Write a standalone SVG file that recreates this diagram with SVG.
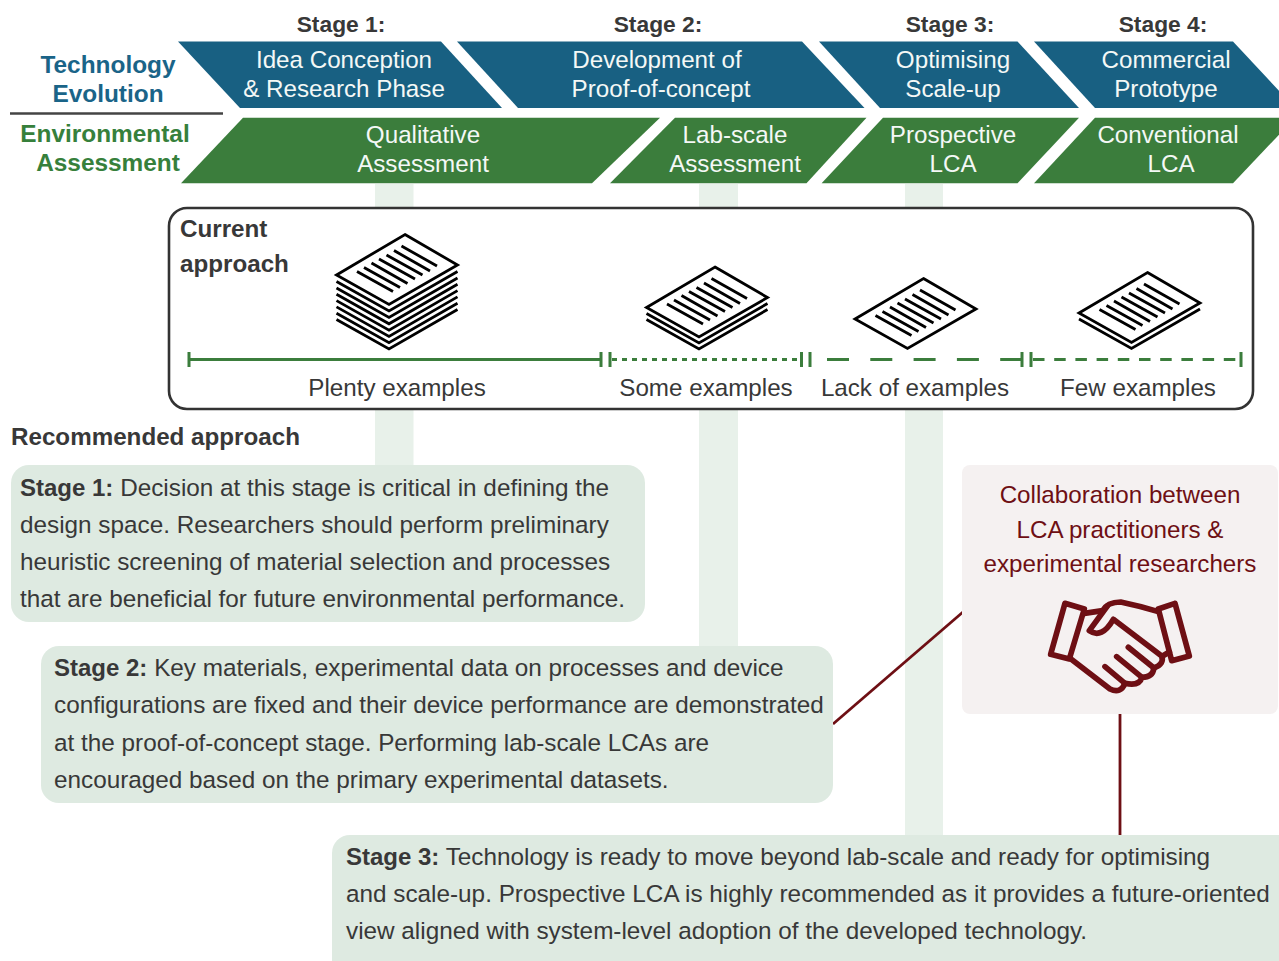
<svg xmlns="http://www.w3.org/2000/svg" width="1279" height="961" viewBox="0 0 1279 961">
<style>
text{font-family:"Liberation Sans",Arial,sans-serif;font-size:24.2px;fill:#383838}
.c{text-anchor:middle}.b{font-weight:700}
.body{font-size:24.3px}
.body .b{font-size:24px}
.w{fill:#f4f8f6;text-anchor:middle}
.st{font-weight:700;text-anchor:middle;font-size:22.8px}
.blue{fill:#186082}.green{fill:#3b7d3c}
.tb{fill:#1a6488;font-weight:700;text-anchor:middle;font-size:24.4px}
.tg{fill:#36803b;font-weight:700;text-anchor:middle;font-size:24.4px}
.band{fill:#e8f1ea}.rec{fill:#deeae1}
.sheet{fill:#fff;stroke:#000;stroke-width:2.800;stroke-linejoin:miter}
.under{fill:none;stroke:#000;stroke-width:2.800}
.tl{stroke:#3b7d3c;stroke-width:3;fill:none}
.red{stroke:#6e0f14;fill:none}
</style>
<defs>
<g id="sheet">
<path class="sheet" d="M0 0L52.500 30.500L-16 70L-68.500 40.500Z"/>
<path class="under" d="M-3.500 11.500L32 31.500M-11 16L25 36.500M-18.500 20.500L17.500 40.500M-26 24.500L10 44.500M-33.500 28.500L2.500 49M-41 33L-5 53M-48 37L-12 57"/>
</g>
<path id="under" class="under" d="M-68.500 40.500L-16 70L52.500 30.500"/>
</defs>
<rect width="1279" height="961" fill="#fff"/>
<g id="bands">
<rect class="band" x="375" y="184" width="38.500" height="285"/>
<rect class="band" x="699" y="184" width="39" height="465"/>
<rect class="band" x="905" y="184" width="38" height="655"/>
</g>
<g id="stage-labels">
<text class="st" x="341" y="31.500">Stage 1:</text>
<text class="st" x="658" y="31.500">Stage 2:</text>
<text class="st" x="950" y="31.500">Stage 3:</text>
<text class="st" x="1163" y="31.500">Stage 4:</text>
</g>
<g id="technology-label">
<text class="tb" x="108" y="73">Technology</text>
<text class="tb" x="108" y="102">Evolution</text>
</g>
<line x1="10" y1="113.500" x2="223" y2="113.500" stroke="#444" stroke-width="2.500"/>
<g id="environment-label">
<text class="tg" x="105" y="142">Environmental</text>
<text class="tg" x="108" y="171">Assessment</text>
</g>
<g id="tech-1"><path class="blue" d="M178 41.500H441L502 108H240Z"/><text class="w" x="344" y="67.500">Idea Conception</text><text class="w" x="344" y="96.500">&amp; Research Phase</text></g>
<g id="tech-2"><path class="blue" d="M457 41.500H802L864.500 108H518Z"/><text class="w" x="657" y="67.500">Development of</text><text class="w" x="661" y="96.500">Proof-of-concept</text></g>
<g id="tech-3"><path class="blue" d="M819 41.500H1017.500L1079 108H880Z"/><text class="w" x="953" y="67.500">Optimising</text><text class="w" x="953" y="96.500">Scale-up</text></g>
<g id="tech-4"><path class="blue" d="M1034 41.500H1233L1295 108H1095Z"/><text class="w" x="1166" y="67.500">Commercial</text><text class="w" x="1166" y="96.500">Prototype</text></g>
<g id="env-1"><path class="green" d="M243 117.700H660L592 183.300H181Z"/><text class="w" x="423" y="142.500">Qualitative</text><text class="w" x="423" y="171.500">Assessment</text></g>
<g id="env-2"><path class="green" d="M675 117.700H866.500L806.500 183.300H610Z"/><text class="w" x="735" y="142.500">Lab-scale</text><text class="w" x="735" y="171.500">Assessment</text></g>
<g id="env-3"><path class="green" d="M883 117.700H1079L1017.500 183.300H821.600Z"/><text class="w" x="953" y="142.500">Prospective</text><text class="w" x="953" y="171.500">LCA</text></g>
<g id="env-4"><path class="green" d="M1095 117.700H1295L1233 183.300H1034Z"/><text class="w" x="1168" y="142.500">Conventional</text><text class="w" x="1171" y="171.500">LCA</text></g>
<g id="current-approach">
<rect x="169" y="208" width="1084" height="201" rx="18" fill="#fff" stroke="#333" stroke-width="2.600"/>
<text class="b" x="180" y="236.500">Current</text>
<text class="b" x="180" y="271.500">approach</text>
<g id="stack-1">
<use href="#under" x="405" y="279"/><use href="#under" x="405" y="272.700"/><use href="#under" x="405" y="266.400"/><use href="#under" x="405" y="260.100"/><use href="#under" x="405" y="253.800"/><use href="#under" x="405" y="247.500"/><use href="#under" x="405" y="241"/>
<use href="#sheet" x="405" y="234.500"/>
</g>
<g id="stack-2">
<use href="#under" x="715" y="279"/><use href="#under" x="715" y="273"/>
<use href="#sheet" x="715" y="267"/>
</g>
<g id="stack-3"><use href="#sheet" x="923.500" y="278.500"/></g>
<g id="stack-4">
<use href="#under" x="1147.500" y="278.500"/>
<use href="#sheet" x="1147.500" y="272.500"/>
</g>
<g id="timeline">
<path class="tl" d="M189 359.500H601M189 352V367M601 352V367"/>
<path class="tl" d="M610 352V367M801.500 352V367"/>
<path class="tl" d="M612 359.500H801" stroke-dasharray="5 5"/>
<path class="tl" d="M810 352V367M1022 352V367"/>
<path class="tl" d="M827 359.500H1022" stroke-dasharray="22 21.300"/>
<path class="tl" d="M1031 352V367M1241 352V367"/>
<path class="tl" d="M1033 359.500H1241" stroke-dasharray="11.500 9.700"/>
</g>
<text class="c" x="397" y="396">Plenty examples</text>
<text class="c" x="706" y="396">Some examples</text>
<text class="c" x="915" y="396">Lack of examples</text>
<text class="c" x="1138" y="396">Few examples</text>
</g>
<text class="b" x="11" y="445">Recommended approach</text>
<g id="connectors">
<line class="red" x1="833" y1="724" x2="963" y2="612" stroke-width="2.800"/>
<line class="red" x1="1120" y1="714" x2="1120" y2="835" stroke-width="2.800"/>
</g>
<g id="rec-stage-1">
<rect class="rec" x="11" y="465" width="634" height="157" rx="18"/>
<text class="body" x="20" y="496"><tspan class="b">Stage 1:</tspan> Decision at this stage is critical in defining the</text>
<text class="body" x="20" y="533">design space. Researchers should perform preliminary</text>
<text class="body" x="20" y="570">heuristic screening of material selection and processes</text>
<text class="body" x="20" y="607">that are beneficial for future environmental performance.</text>
</g>
<g id="rec-stage-2">
<rect class="rec" x="41" y="646" width="792" height="157" rx="18"/>
<text class="body" x="54" y="676"><tspan class="b">Stage 2:</tspan> Key materials, experimental data on processes and device</text>
<text class="body" x="54" y="713">configurations are fixed and their device performance are demonstrated</text>
<text class="body" x="54" y="751">at the proof-of-concept stage. Performing lab-scale LCAs are</text>
<text class="body" x="54" y="788">encouraged based on the primary experimental datasets.</text>
</g>
<g id="rec-stage-3">
<rect class="rec" x="332" y="835" width="970" height="150" rx="18"/>
<text class="body" x="346" y="865"><tspan class="b">Stage 3:</tspan> Technology is ready to move beyond lab-scale and ready for optimising</text>
<text class="body" x="346" y="902">and scale-up. Prospective LCA is highly recommended as it provides a future-oriented</text>
<text class="body" x="346" y="939">view aligned with system-level adoption of the developed technology.</text>
</g>
<g id="collaboration">
<rect x="962" y="465" width="316" height="249" rx="8" fill="#f5f1f1"/>
<text class="c" x="1120" y="503" style="fill:#6e0f14">Collaboration between</text>
<text class="c" x="1120" y="537.500" style="fill:#6e0f14">LCA practitioners &amp;</text>
<text class="c" x="1120" y="572" style="fill:#6e0f14">experimental researchers</text>
<g transform="translate(1030,590) scale(.3333)" class="red" stroke-width="17" stroke-linejoin="round" stroke-linecap="round">
<path d="M105 40L163 57L118 207L62 193Z"/>
<path d="M435 40L385 57L425 212L478 198Z"/>
<path d="M163 70L218 62Q232 36 272 36Q330 48 385 65"/>
<path d="M232 48L178 122Q215 148 250 88L395 198Q404 222 372 234Q368 262 336 262Q328 290 285 280Q272 312 240 297L120 205"/>
<path d="M295 172L372 234M260 200L336 262M225 230L285 280"/>
<path d="M398 198L418 186"/>
</g>
</g>
</svg>
